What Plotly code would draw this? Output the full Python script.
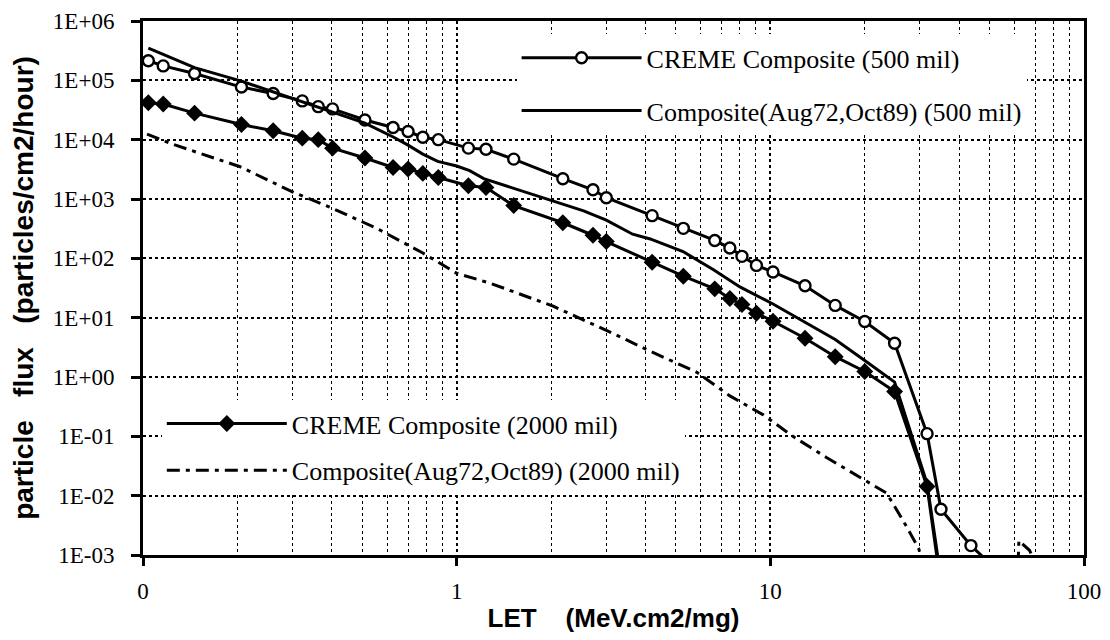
import plotly.graph_objects as go

# LET (MeV.cm2/mg) and flux (particles/cm2/hour)
let_creme_500 = [0.104, 0.116, 0.146, 0.206, 0.26, 0.322, 0.362, 0.402, 0.51, 0.627,
                 0.70, 0.78, 0.874, 1.09, 1.24, 1.52, 2.18, 2.72, 3.0, 4.2,
                 5.28, 6.65, 7.43, 8.12, 9.03, 10.2, 12.9, 16.1, 20.0, 24.9,
                 31.6, 35.0, 43.6, 52.0]
flux_creme_500 = [2.14e5, 1.75e5, 1.3e5, 7.7e4, 6.0e4, 4.5e4, 3.6e4, 3.3e4, 2.15e4, 1.6e4,
                  1.37e4, 1.1e4, 1.0e4, 7.2e3, 6.9e3, 4.7e3, 2.2e3, 1.43e3, 1.05e3, 524,
                  320, 200, 149, 108, 76, 59, 34.5, 16.1, 8.6, 3.7,
                  0.111, 5.9e-3, 1.44e-3, 6e-4]

let_comp_500 = [0.104, 0.116, 0.146, 0.206, 0.26, 0.322, 0.40, 0.51, 0.63, 0.70,
                0.78, 0.87, 1.0, 1.1, 1.22, 1.55, 1.98, 2.54, 3.0, 3.64,
                4.14, 5.27, 6.59, 8.0, 10.2, 12.9, 16.1, 20.0, 24.9, 31.6, 35.0]
flux_comp_500 = [3.5e5, 2.75e5, 1.64e5, 9.7e4, 6.4e4, 4.4e4, 3.0e4, 1.9e4, 1.1e4, 8.1e3,
                 5.7e3, 4.3e3, 3.6e3, 3.0e3, 2.2e3, 1.45e3, 970, 632, 440, 255,
                 212, 130, 64, 33, 17, 8.3, 4.3, 1.9, 0.82, 0.016, 4e-4]

let_creme_2000 = [0.104, 0.116, 0.146, 0.206, 0.26, 0.322, 0.362, 0.402, 0.51, 0.627,
                  0.70, 0.78, 0.874, 1.09, 1.24, 1.52, 2.18, 2.72, 3.0, 4.2,
                  5.28, 6.65, 7.43, 8.12, 9.03, 10.2, 12.9, 16.1, 20.0, 24.9,
                  31.6, 35.0]
flux_creme_2000 = [4.2e4, 4.0e4, 2.8e4, 1.8e4, 1.41e4, 1.06e4, 1.0e4, 7.2e3, 4.9e3, 3.4e3,
                   3.2e3, 2.7e3, 2.3e3, 1.67e3, 1.56e3, 775, 398, 245, 192, 86,
                   50, 30.6, 21, 16.7, 11.9, 8.7, 4.5, 2.2, 1.24, 0.57,
                   0.0143, 3e-4]

let_comp_2000 = [0.103, 0.125, 0.204, 0.302, 0.385, 0.55, 0.78, 1.0, 1.29, 2.03,
                 3.16, 4.03, 5.83, 7.43, 9.5, 11.8, 15.1, 20.0, 23.5, 26.5,
                 29.7, 32.0, 60.0, 62.0, 67.0, 80.0]
flux_comp_2000 = [1.24e4, 8.3e3, 3.5e3, 1.29e3, 766, 330, 123, 56, 37.5, 15.6,
                  5.4, 2.9, 1.2, 0.48, 0.23, 0.1, 0.044, 0.018, 0.011, 3.8e-3,
                  1.3e-3, 3e-4, 1e-5, 1.75e-3, 1.2e-3, 2e-4]

x_ticks = [0.1, 1, 10, 100]
x_tick_text = ["0", "1", "10", "100"]
y_ticks = [1e-3, 1e-2, 1e-1, 1e0, 1e1, 1e2, 1e3, 1e4, 1e5, 1e6]
y_tick_text = ["1E-03", "1E-02", "1E-01", "1E+00", "1E+01",
               "1E+02", "1E+03", "1E+04", "1E+05", "1E+06"]

SERIF = "Liberation Serif, Times New Roman, serif"
SANS = "Liberation Sans, Arial, sans-serif"
NB = "\u00a0"

fig = go.Figure()

# ── top legend group (500 mil) ───────────────────────────────
fig.add_trace(go.Scatter(
    x=let_creme_500, y=flux_creme_500, mode="lines+markers",
    name="CREME Composite (500 mil)", legend="legend", legendgroup="a",
    line=dict(color="black", width=3),
    marker=dict(symbol="circle", size=11, color="white",
                line=dict(color="black", width=2.4)),
))
fig.add_trace(go.Scatter(
    x=let_comp_500, y=flux_comp_500, mode="lines",
    name="Composite(Aug72,Oct89) (500 mil)", legend="legend", legendgroup="b",
    line=dict(color="black", width=3),
))

# ── bottom legend group (2000 mil) ───────────────────────────
fig.add_trace(go.Scatter(
    x=let_creme_2000, y=flux_creme_2000, mode="lines+markers",
    name="CREME Composite (2000 mil)", legend="legend2", legendgroup="c",
    line=dict(color="black", width=3),
    marker=dict(symbol="diamond", size=13, color="black"),
))
fig.add_trace(go.Scatter(
    x=let_comp_2000, y=flux_comp_2000, mode="lines",
    name="Composite(Aug72,Oct89) (2000 mil)", legend="legend2", legendgroup="d",
    line=dict(color="black", width=3, dash="13px,6px,4px,6px"),
))

legend_font = dict(family=SERIF, size=26, color="black")

# the page body adds an 8px offset, so margins are shifted to compensate
fig.update_layout(
    width=1110,
    height=640,
    margin=dict(l=135, r=34, t=13, b=93),
    paper_bgcolor="white",
    plot_bgcolor="white",
    legend=dict(
        x=0.397, y=0.975, xanchor="left", yanchor="top",
        bgcolor="white", borderwidth=0, font=legend_font,
        itemwidth=120, tracegroupgap=16, traceorder="grouped",
    ),
    legend2=dict(
        x=0.02, y=0.29, xanchor="left", yanchor="top",
        bgcolor="white", borderwidth=0, font=legend_font,
        itemwidth=120, tracegroupgap=10, traceorder="grouped",
    ),
)

fig.update_xaxes(
    type="log",
    range=[-1, 2],
    automargin=False,
    tickmode="array",
    tickvals=x_ticks,
    ticktext=x_tick_text,
    tickfont=dict(family=SERIF, size=23, color="black"),
    ticks="outside", ticklen=8, tickwidth=2.5, tickcolor="black",
    ticklabelstandoff=5,
    showline=True, linewidth=3, linecolor="black", mirror=True,
    showgrid=True, gridcolor="black", griddash="dot", gridwidth=2,
    minor=dict(dtick="D1", showgrid=True, gridcolor="black",
               griddash="dot", gridwidth=1.3, ticklen=0),
    zeroline=False,
    title=dict(text="LET" + NB * 4 + "(MeV.cm2/mg)",
               font=dict(family=SANS, size=26, color="black", weight="bold"),
               standoff=7),
)
fig.update_yaxes(
    type="log",
    range=[-3, 6],
    automargin=False,
    tickmode="array",
    tickvals=y_ticks,
    ticktext=y_tick_text,
    tickfont=dict(family=SERIF, size=23, color="black"),
    ticks="outside", ticklen=9, tickwidth=2.5, tickcolor="black",
    ticklabelstandoff=12,
    showline=True, linewidth=3, linecolor="black", mirror=True,
    showgrid=True, gridcolor="black", griddash="dot", gridwidth=2,
    zeroline=False,
    title=dict(text="particle" + NB * 3 + "flux" + NB * 3 + "(particles/cm2/hour)",
               font=dict(family=SANS, size=28, color="black", weight="bold"),
               standoff=13),
)

fig.write_html("out.html")
